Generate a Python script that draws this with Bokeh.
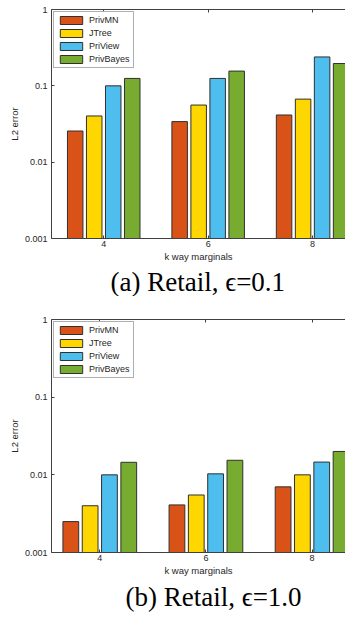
from bokeh.plotting import figure
from bokeh.models import (Range1d, FixedTicker, CustomJSTickFormatter, LinearAxis,
                          Legend, LegendItem, Title, ColumnDataSource)
from bokeh.layouts import column
from bokeh.transform import dodge
from bokeh.embed import file_html
from bokeh.resources import INLINE

# ---- data ----
k_values = [4, 6, 8]
methods = ["PrivMN", "JTree", "PriView", "PrivBayes"]
colors = ["#D95319", "#FFD700", "#4DBEEE", "#77AC30"]

eps01_privmn = [0.0256, 0.034, 0.0415]
eps01_jtree = [0.0403, 0.056, 0.067]
eps01_priview = [0.100, 0.125, 0.239]
eps01_privbayes = [0.125, 0.156, 0.196]

eps10_privmn = [0.0025, 0.0041, 0.0070]
eps10_jtree = [0.0040, 0.0055, 0.0100]
eps10_priview = [0.0100, 0.0103, 0.0146]
eps10_privbayes = [0.0145, 0.0154, 0.0200]

y_ticks = [0.001, 0.01, 0.1, 1]
x_label = "k way marginals"
y_label = "L2 error"
captions = ["(a) Retail, \u03f5=0.1", "(b) Retail, \u03f5=1.0"]

AX = "#404040"
TXT = "#262626"
FONT = "Liberation Sans"
W = 345


def make_panel(series, caption, height, b_top, x_start, x_end, cap_offset, cap_standoff):
    p = figure(width=W, height=height, x_range=Range1d(x_start, x_end),
               y_range=Range1d(y_ticks[0], y_ticks[-1]), y_axis_type="log",
               output_backend="svg", toolbar_location=None,
               min_border_left=51, min_border_right=0,
               min_border_top=b_top, min_border_bottom=0,
               outline_line_color=None, background_fill_color="white",
               border_fill_color="white")
    p.xgrid.visible = False
    p.ygrid.visible = False

    pitch = 0.364
    width = 0.297
    offsets = [-1.5 * pitch, -0.5 * pitch, 0.5 * pitch, 1.5 * pitch]
    items = []
    for name, vals, col, off in zip(methods, series, colors, offsets):
        src = ColumnDataSource(dict(k=k_values, top=vals))
        r = p.vbar(x=dodge("k", off, range=p.x_range), top="top", bottom=y_ticks[0],
                   width=width, source=src, fill_color=col, line_color="#303030",
                   line_width=1)
        items.append(LegendItem(label=name, renderers=[r]))

    xa = p.xaxis[0]
    xa.ticker = FixedTicker(ticks=k_values)
    xa.axis_label = x_label
    xa.major_tick_in = 3
    xa.major_tick_out = 0
    xa.minor_tick_line_color = None
    xa.major_label_standoff = 2
    xa.axis_label_standoff = 1
    xa.major_label_text_font = FONT
    xa.major_label_text_font_size = "9px"
    xa.major_label_text_color = TXT
    xa.axis_label_text_font = FONT
    xa.axis_label_text_font_size = "9.5px"
    xa.axis_label_text_font_style = "normal"
    xa.axis_label_text_color = TXT
    xa.axis_line_color = AX
    xa.major_tick_line_color = AX

    ya = p.yaxis[0]
    ya.ticker = FixedTicker(ticks=y_ticks, minor_ticks=[])
    ya.formatter = CustomJSTickFormatter(code="return tick.toString();")
    ya.axis_label = y_label
    ya.major_tick_in = 3
    ya.major_tick_out = 0
    ya.minor_tick_line_color = None
    ya.major_label_standoff = 4
    ya.axis_label_standoff = 2
    ya.major_label_text_font = FONT
    ya.major_label_text_font_size = "9px"
    ya.major_label_text_color = TXT
    ya.axis_label_text_font = FONT
    ya.axis_label_text_font_size = "9.5px"
    ya.axis_label_text_font_style = "normal"
    ya.axis_label_text_color = TXT
    ya.axis_line_color = AX
    ya.major_tick_line_color = AX

    top_axis = LinearAxis(ticker=FixedTicker(ticks=k_values), major_label_text_font_size="0px",
                          major_tick_in=3, major_tick_out=0, major_label_standoff=0,
                          minor_tick_line_color=None, axis_line_color=AX,
                          major_tick_line_color=AX, major_label_text_color=None)
    p.add_layout(top_axis, "above")

    legend = Legend(items=items, location="top_left", margin=2, padding=3, spacing=3,
                    glyph_width=28, glyph_height=10, label_height=10, label_standoff=4,
                    label_text_font=FONT, label_text_font_size="9px",
                    label_text_color=TXT, border_line_color="#606060",
                    border_line_width=1, background_fill_color="white",
                    background_fill_alpha=1.0)
    p.add_layout(legend)

    t = Title(text=caption, align="left", offset=cap_offset, standoff=cap_standoff,
              text_font="Liberation Serif", text_font_size="27px",
              text_font_style="normal", text_color="black")
    p.add_layout(t, "below")
    return p


p1 = make_panel([eps01_privmn, eps01_jtree, eps01_priview, eps01_privbayes],
                captions[0], height=296, b_top=9, x_start=3.0, x_end=8.63,
                cap_offset=59, cap_standoff=0)
p2 = make_panel([eps10_privmn, eps10_jtree, eps10_priview, eps10_privbayes],
                captions[1], height=316, b_top=23, x_start=3.09, x_end=8.63,
                cap_offset=74, cap_standoff=2)

layout = column(p1, p2, spacing=0, width=W)
open("out.html", "w").write(file_html(layout, INLINE))
